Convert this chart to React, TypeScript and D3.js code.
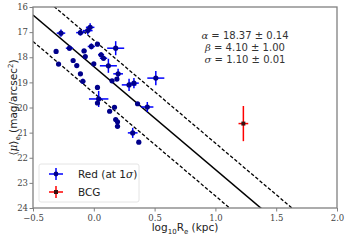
import React, { useEffect, useRef } from "react";
import * as d3 from "d3";

// red-sequence galaxies: log10 Re (kpc), <mu>_e and their 1 sigma errors
const logRe = [-0.27, -0.31, -0.29, -0.2, -0.17, -0.14, -0.11, -0.09, -0.11, -0.05, -0.03, -0.08, -0.07, -0.02, 0.03, 0.06, 0.08, 0.0, 0.12, 0.18, 0.2, 0.19, 0.15, 0.29, 0.33, 0.51, 0.03, 0.04, 0.03, 0.17, 0.13, 0.36, 0.44, 0.18, 0.195, 0.195, 0.32, 0.37];
const muE = [17.04, 17.77, 18.27, 17.64, 18.13, 18.33, 18.66, 18.96, 17.02, 16.94, 16.81, 17.75, 17.97, 17.57, 17.48, 17.9, 18.04, 18.26, 18.34, 17.64, 18.66, 18.87, 18.94, 19.1, 19.03, 18.83, 19.2, 19.66, 19.82, 19.99, 20.15, 19.85, 19.98, 20.48, 20.57, 20.75, 21.01, 21.38];
const errX = [0.035, 0.01, 0.01, 0.03, 0.01, 0.01, 0.01, 0.02, 0.035, 0.04, 0.035, 0.02, 0.01, 0.03, 0.02, 0.025, 0.03, 0.01, 0.07, 0.07, 0.04, 0.01, 0.01, 0.06, 0.04, 0.07, 0.01, 0.08, 0.01, 0.01, 0.01, 0.01, 0.05, 0.01, 0.01, 0.01, 0.04, 0.01];
const errY = [0.14, 0.04, 0.04, 0.1, 0.04, 0.04, 0.04, 0.1, 0.12, 0.16, 0.16, 0.08, 0.04, 0.12, 0.08, 0.1, 0.1, 0.04, 0.28, 0.28, 0.2, 0.04, 0.04, 0.24, 0.2, 0.28, 0.04, 0.32, 0.04, 0.04, 0.04, 0.04, 0.2, 0.04, 0.04, 0.04, 0.2, 0.04];

// brightest cluster galaxy
const bcgLogRe = [1.23];
const bcgMu = [20.64];
const bcgErrX = [0.04];
const bcgErrY = [0.7];

// fit
const alpha = 18.37;
const beta = 4.1;
const band = 1.05;
const fitSymbols = ["α", "β", "σ"];
const fitValues = ["18.37 ± 0.14", "4.10 ± 1.00", "1.10 ± 0.01"];

const xTicks = [-0.5, 0, 0.5, 1, 1.5, 2];
const yTicks = [16, 17, 18, 19, 20, 21, 22, 23, 24];
const legendLabels = ["Red", "BCG"];

const W = 347;
const H = 240;
const M = { top: 7, right: 10, bottom: 32, left: 33 };

function App() {
  const ref = useRef(null);

  useEffect(() => {
    document.body.style.margin = "0";
    const svg = d3.select(ref.current);
    svg.selectAll("*").remove();

    const x = d3.scaleLinear().domain([-0.5, 2.0]).range([M.left, W - M.right]);
    const y = d3.scaleLinear().domain([16, 24]).range([M.top, H - M.bottom]);
    const grey = "#808080";

    svg.append("defs").append("clipPath").attr("id", "plotclip")
      .append("rect")
      .attr("x", M.left).attr("y", M.top)
      .attr("width", W - M.left - M.right).attr("height", H - M.top - M.bottom);

    // fit line and +/- band
    const fit = svg.append("g").attr("clip-path", "url(#plotclip)");
    const xs = [-0.5, 2.0];
    [[0, null], [-band, "3.5,2"], [band, "3.5,2"]].forEach(([off, dash]) => {
      fit.append("line")
        .attr("x1", x(xs[0])).attr("y1", y(alpha + off + beta * xs[0]))
        .attr("x2", x(xs[1])).attr("y2", y(alpha + off + beta * xs[1]))
        .attr("stroke", "black")
        .attr("stroke-width", dash ? 1.3 : 1.5)
        .attr("stroke-dasharray", dash);
    });

    // red galaxies
    const pts = svg.append("g");
    logRe.forEach((lx, i) => {
      const cx = x(lx), cy = y(muE[i]);
      pts.append("line").attr("x1", x(lx - errX[i])).attr("x2", x(lx + errX[i]))
        .attr("y1", cy).attr("y2", cy).attr("stroke", "#0000ff").attr("stroke-width", 1.5);
      pts.append("line").attr("x1", cx).attr("x2", cx)
        .attr("y1", y(muE[i] - errY[i])).attr("y2", y(muE[i] + errY[i]))
        .attr("stroke", "#0000ff").attr("stroke-width", 1.5);
    });
    pts.selectAll("circle").data(logRe).enter().append("circle")
      .attr("cx", (d) => x(d))
      .attr("cy", (d, i) => y(muE[i]))
      .attr("r", 2.6)
      .attr("fill", "#00008b");

    // BCG
    bcgLogRe.forEach((lx, i) => {
      const cx = x(lx), cy = y(bcgMu[i]);
      pts.append("line").attr("x1", x(lx - bcgErrX[i])).attr("x2", x(lx + bcgErrX[i]))
        .attr("y1", cy).attr("y2", cy).attr("stroke", "red").attr("stroke-width", 1.5);
      pts.append("line").attr("x1", cx).attr("x2", cx)
        .attr("y1", y(bcgMu[i] - bcgErrY[i])).attr("y2", y(bcgMu[i] + bcgErrY[i]))
        .attr("stroke", "red").attr("stroke-width", 1.5);
      pts.append("rect").attr("x", cx - 2).attr("y", cy - 2)
        .attr("width", 4).attr("height", 4).attr("fill", "#3a1010");
    });

    // fit parameters
    const ann = svg.append("g").attr("font-family", "DejaVu Sans, sans-serif")
      .attr("font-size", 10).attr("fill", "#333").attr("text-anchor", "middle");
    fitSymbols.forEach((s, i) => {
      const t = ann.append("text").attr("x", 245).attr("y", 38.5 + i * 12.3);
      t.append("tspan").attr("font-family", "DejaVu Serif, serif").attr("font-style", "italic").text(s);
      t.append("tspan").text(" = " + fitValues[i]);
    });

    // axes frame
    svg.append("rect")
      .attr("x", M.left).attr("y", M.top)
      .attr("width", W - M.left - M.right).attr("height", H - M.top - M.bottom)
      .attr("fill", "none").attr("stroke", grey).attr("stroke-width", 1.3);

    const xAxis = svg.append("g").attr("transform", `translate(0,${H - M.bottom})`)
      .call(d3.axisBottom(x).tickValues(xTicks).tickFormat(d3.format(".1f")).tickSizeOuter(0).tickSize(3.5));
    const yAxis = svg.append("g").attr("transform", `translate(${M.left},0)`)
      .call(d3.axisLeft(y).tickValues(yTicks).tickFormat(d3.format("d")).tickSizeOuter(0).tickSize(3.5));
    [xAxis, yAxis].forEach((a) => {
      a.select(".domain").remove();
      a.selectAll("line").attr("stroke", grey).attr("stroke-width", 1);
      a.selectAll("text").attr("fill", "#444").attr("font-family", "DejaVu Serif, serif").attr("font-size", 8.5);
    });
    yAxis.selectAll("text").attr("x", -5);

    // axis labels
    const xl = svg.append("text").attr("x", (M.left + W - M.right) / 2).attr("y", 231)
      .attr("text-anchor", "middle").attr("font-family", "DejaVu Sans, sans-serif")
      .attr("font-size", 10.5).attr("fill", "#222");
    xl.append("tspan").text("log");
    xl.append("tspan").attr("font-size", 7).attr("dy", 2.5).text("10");
    xl.append("tspan").attr("dy", -2.5).text("R");
    xl.append("tspan").attr("font-size", 7).attr("dy", 2.5).text("e");
    xl.append("tspan").attr("dy", -2.5).text(" (kpc)");

    const yl = svg.append("text")
      .attr("transform", `translate(17,${(M.top + H - M.bottom) / 2}) rotate(-90)`)
      .attr("text-anchor", "middle").attr("font-family", "DejaVu Sans, sans-serif")
      .attr("font-size", 10.5).attr("fill", "#222");
    yl.append("tspan").text("⟨");
    yl.append("tspan").attr("font-family", "DejaVu Serif, serif").attr("font-style", "italic").text("μ");
    yl.append("tspan").text("⟩");
    yl.append("tspan").attr("font-size", 7).attr("dy", 2.5).text("e");
    yl.append("tspan").attr("dy", -2.5).text(" (mag/arcsec");
    yl.append("tspan").attr("font-size", 7).attr("dy", -4).text("2");
    yl.append("tspan").attr("dy", 4).text(")");

    // legend
    const lg = svg.append("g");
    lg.append("rect").attr("x", 39).attr("y", 164).attr("width", 100).attr("height", 38)
      .attr("rx", 2).attr("fill", "white").attr("stroke", "#ddd").attr("stroke-width", 0.8);
    const legendColors = [["#0000ff", "#00008b"], ["red", "#3a1010"]];
    legendLabels.forEach((lab, i) => {
      const cy = 174 + i * 18, cx = 56;
      lg.append("line").attr("x1", cx - 7).attr("x2", cx + 7).attr("y1", cy).attr("y2", cy)
        .attr("stroke", legendColors[i][0]).attr("stroke-width", 1.5);
      lg.append("line").attr("x1", cx).attr("x2", cx).attr("y1", cy - 6).attr("y2", cy + 6)
        .attr("stroke", legendColors[i][0]).attr("stroke-width", 1.5);
      if (i === 0) lg.append("circle").attr("cx", cx).attr("cy", cy).attr("r", 2.4).attr("fill", legendColors[i][1]);
      else lg.append("rect").attr("x", cx - 2).attr("y", cy - 2).attr("width", 4).attr("height", 4).attr("fill", legendColors[i][1]);
      const t = lg.append("text").attr("x", 78).attr("y", cy + 4)
        .attr("font-family", "DejaVu Sans, sans-serif").attr("font-size", 10.5).attr("fill", "#222");
      t.append("tspan").text(lab);
      if (i === 0) {
        t.append("tspan").text(" (at 1");
        t.append("tspan").attr("font-family", "DejaVu Serif, serif").attr("font-style", "italic").text("σ");
        t.append("tspan").text(")");
      }
    });
  }, []);

  return <svg ref={ref} width={W} height={H} style={{ display: "block" }} />;
}

export default App;
